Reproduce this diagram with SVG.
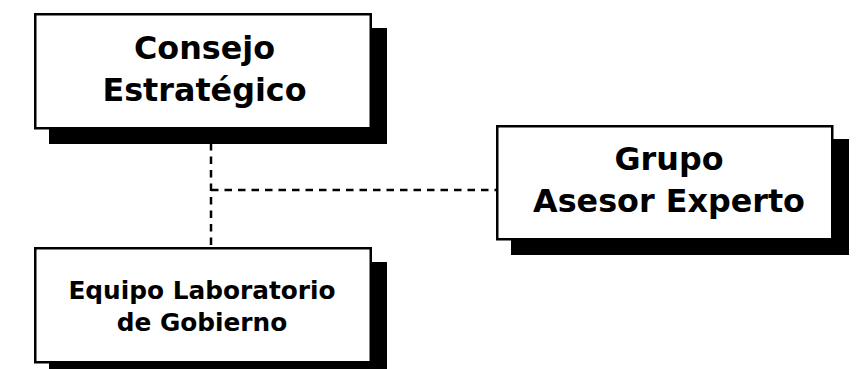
<svg xmlns="http://www.w3.org/2000/svg" width="862" height="369" viewBox="0 0 862 369">
  <style>
    .shadow { fill: #000; }
    .box { fill: #fff; stroke: #000; stroke-width: 2.5; }
    .title { font-family: "DejaVu Sans", "Liberation Sans", sans-serif; font-weight: bold; font-size: 31.8px; fill: #000; text-anchor: middle; }
    .small { font-size: 24.8px; }
    .link { fill: none; stroke: #000; stroke-width: 2.5; stroke-dasharray: 7.5 6; }
  </style>

  <!-- dashed connectors -->
  <g id="connectors">
    <path class="link" d="M211 143 V247"/>
    <path class="link" d="M211 190 H496"/>
  </g>

  <g id="consejo-estrategico">
    <rect class="shadow" x="49" y="28" width="338" height="116"/>
    <rect class="box" x="35.25" y="14.25" width="335.5" height="114"/>
    <text class="title" x="204.5" y="58.5">Consejo</text>
    <text class="title" x="204.5" y="100.5">Estratégico</text>
  </g>

  <g id="grupo-asesor-experto">
    <rect class="shadow" x="511" y="139" width="338" height="116"/>
    <rect class="box" x="497.25" y="126.25" width="335" height="113"/>
    <text class="title" x="669" y="169.5">Grupo</text>
    <text class="title" x="669" y="211.5">Asesor Experto</text>
  </g>

  <g id="equipo-laboratorio">
    <rect class="shadow" x="49" y="262" width="338" height="116"/>
    <rect class="box" x="35.25" y="248.25" width="335.5" height="114"/>
    <text class="title small" x="202" y="298.5">Equipo Laboratorio</text>
    <text class="title small" x="202" y="330.5">de Gobierno</text>
  </g>
</svg>
